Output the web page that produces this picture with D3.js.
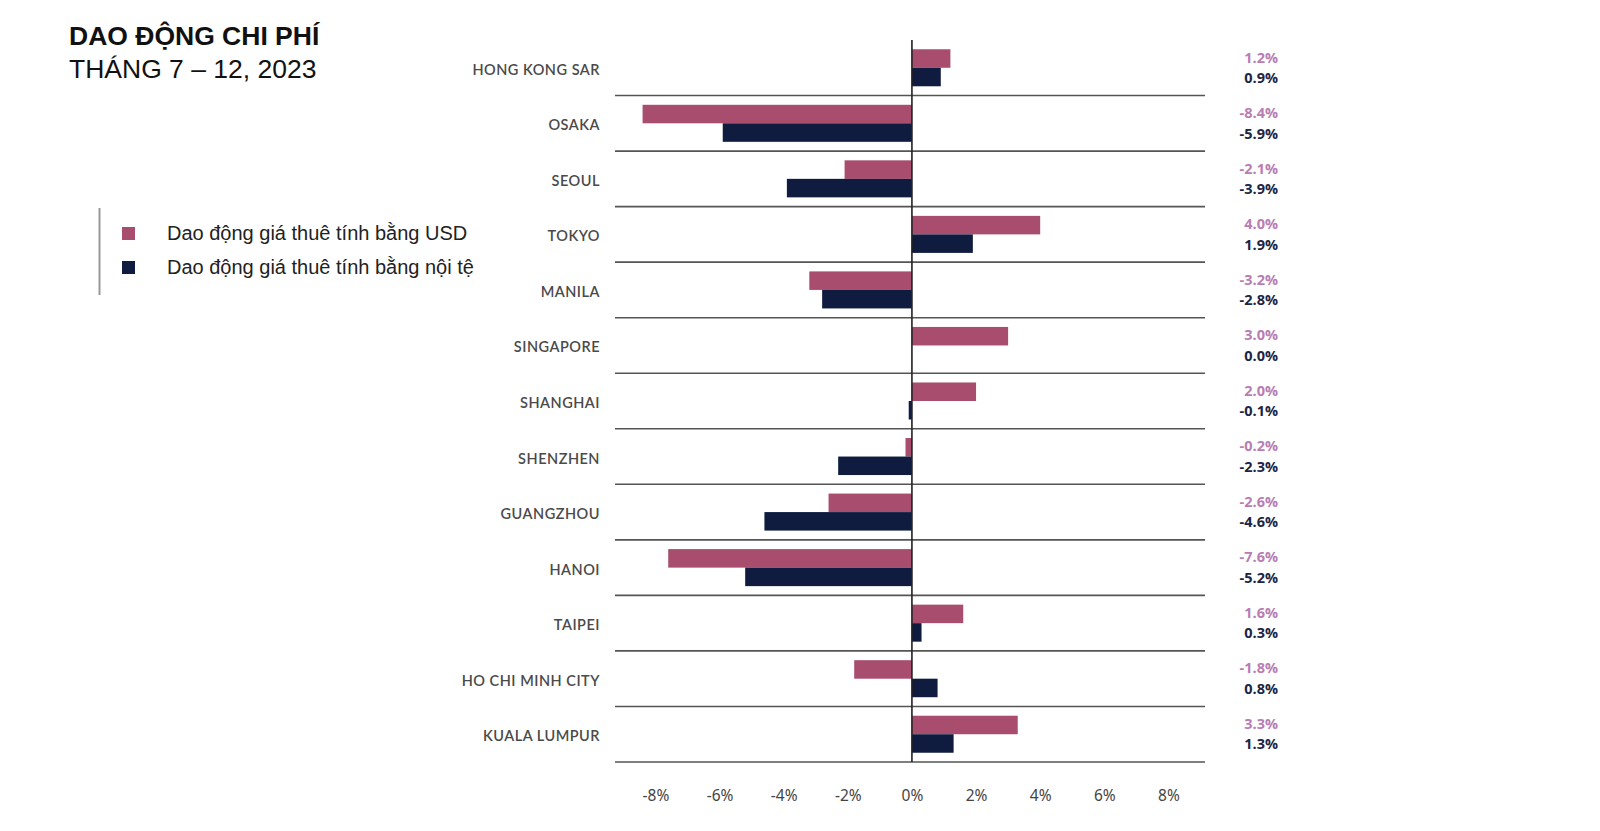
<!DOCTYPE html>
<html><head><meta charset="utf-8">
<script src="https://cdn.jsdelivr.net/npm/d3@7"></script>
<style>
html,body{margin:0;padding:0;background:#fff;}
svg{display:block;}
</style></head>
<body>
<svg id="c" width="1600" height="831"></svg>
<script>
const categories = ["HONG KONG SAR","OSAKA","SEOUL","TOKYO","MANILA","SINGAPORE","SHANGHAI","SHENZHEN","GUANGZHOU","HANOI","TAIPEI","HO CHI MINH CITY","KUALA LUMPUR"];
const usdValues = [1.2,-8.4,-2.1,4.0,-3.2,3.0,2.0,-0.2,-2.6,-7.6,1.6,-1.8,3.3];
const localValues = [0.9,-5.9,-3.9,1.9,-2.8,0.0,-0.1,-2.3,-4.6,-5.2,0.3,0.8,1.3];
const tickValues = [-8,-6,-4,-2,0,2,4,6,8];
const seriesNames = ["Dao động giá thuê tính bằng USD","Dao động giá thuê tính bằng nội tệ"];
const colors = ["#a84d6e","#0f1c3f"];
const labelColors = ["#b87db3","#1c2545"];

const svg = d3.select("#c");
const x = d3.scaleLinear().domain([-9.26, 9.14]).range([615, 1205]);
const y = d3.scaleBand().domain(categories).range([40, 762]);
const inner = d3.scaleBand().domain([0,1]).range([0, y.bandwidth()]).paddingOuter(0.5).paddingInner(0);

// title
svg.append("text").attr("x",69).attr("y",45).attr("font-family","Liberation Sans, Arial, sans-serif")
  .attr("font-weight","bold").attr("font-size",26.5).attr("fill","#111").text("DAO ĐỘNG CHI PHÍ");
svg.append("text").attr("x",69).attr("y",78).attr("font-family","Liberation Sans, Arial, sans-serif")
  .attr("font-size",26.5).attr("fill","#111").text("THÁNG 7 – 12, 2023");

// legend
const lg = svg.append("g");
lg.append("line").attr("x1",99.5).attr("x2",99.5).attr("y1",208).attr("y2",295).attr("stroke","#999").attr("stroke-width",2);
seriesNames.forEach((n,i)=>{
  lg.append("rect").attr("x",122).attr("y",227+i*34).attr("width",13).attr("height",13).attr("fill",colors[i]);
  lg.append("text").attr("x",167).attr("y",240+i*34).attr("font-family","Liberation Sans, Arial, sans-serif")
    .attr("font-size",20).attr("fill","#222").text(n);
});

// separators (bottom of each row)
svg.append("g").selectAll("line").data(categories).join("line")
  .attr("x1",x.range()[0]).attr("x2",x.range()[1])
  .attr("y1",d=>y(d)+y.bandwidth()).attr("y2",d=>y(d)+y.bandwidth())
  .attr("stroke","#555").attr("stroke-width",1.6);

// bars
const series = [usdValues, localValues];
series.forEach((vals,si)=>{
  svg.append("g").selectAll("rect").data(categories).join("rect")
    .attr("x",(d,i)=>x(Math.min(0,vals[i])))
    .attr("width",(d,i)=>Math.abs(x(vals[i])-x(0)))
    .attr("y",d=>y(d)+inner(si))
    .attr("height",inner.bandwidth())
    .attr("fill",colors[si]);
});

// zero line
svg.append("line").attr("x1",x(0)).attr("x2",x(0)).attr("y1",40).attr("y2",762)
  .attr("stroke","#222").attr("stroke-width",1.6);

// category labels
svg.append("g").selectAll("text").data(categories).join("text")
  .attr("x",600).attr("y",d=>y(d)+y.bandwidth()/2+7)
  .attr("text-anchor","end").attr("font-family","Lato, sans-serif").attr("font-weight",600)
  .attr("font-size",14.5).attr("letter-spacing",0.5).attr("fill","#4a4a4a").text(d=>d);

// value labels
series.forEach((vals,si)=>{
  svg.append("g").selectAll("text").data(categories).join("text")
    .attr("x",1278).attr("y",d=>y(d)+inner(si)+inner.bandwidth()/2+5+(si===0?-1:1))
    .attr("text-anchor","end").attr("font-family","Open Sans, sans-serif").attr("font-weight",700)
    .attr("font-size",14.5).attr("fill",labelColors[si])
    .text((d,i)=>vals[i].toFixed(1)+"%");
});

// x axis
const axis = d3.axisBottom(x).tickValues(tickValues).tickFormat(d=>d+"%").tickSize(0).tickPadding(0);
const ag = svg.append("g").attr("transform","translate(0,796)").call(axis);
ag.select(".domain").remove();
ag.selectAll("text").attr("font-family","Noto Sans, sans-serif").attr("font-size",15.5).attr("fill","#444").attr("dy","0.32em");
</script>
</body></html>
